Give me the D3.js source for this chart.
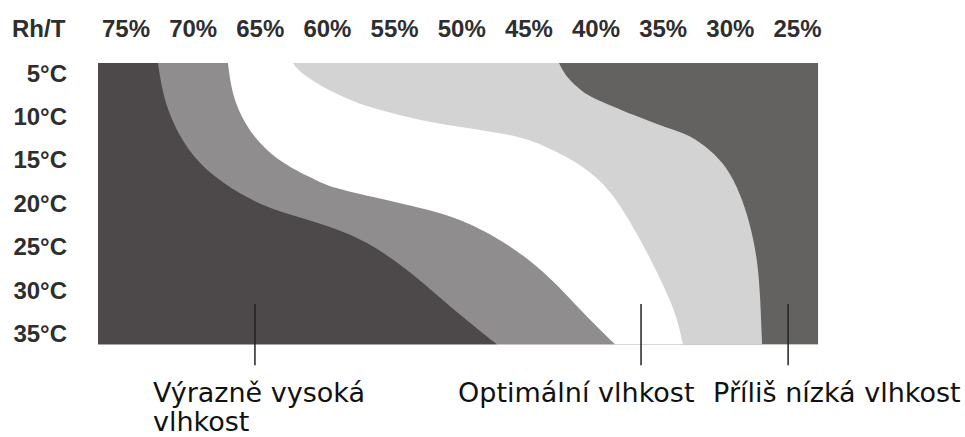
<!DOCTYPE html>
<html>
<head>
<meta charset="utf-8">
<script src="https://cdn.jsdelivr.net/npm/d3@7/dist/d3.min.js"></script>
<style>
  html, body { margin: 0; padding: 0; background: #ffffff; }
  svg { display: block; }
</style>
</head>
<body>
<svg id="chart" width="965" height="437"></svg>
<script>
// ---- data ----
const cornerLabel = "Rh/T";
const humidityTicks = [75, 70, 65, 60, 55, 50, 45, 40, 35, 30, 25];
const humidityLabels = ["75%", "70%", "65%", "60%", "55%", "50%", "45%", "40%", "35%", "30%", "25%"];
const tempTicks = [5, 10, 15, 20, 25, 30, 35];
const tempLabels = ["5°C", "10°C", "15°C", "20°C", "25°C", "30°C", "35°C"];

// extent of the coloured field (humidity %, temperature °C)
const fieldHumidity = [77.08, 23.47];
const fieldTemp = [3.85, 36.25];

// zone boundaries: [temperature °C, humidity %]
const boundaryHigh = [ // dark (very high) | medium gray
  [3.85, 72.62], [6.96, 72.32], [10.07, 71.72], [13.87, 70.46], [16.98, 68.52],
  [19.63, 65.77], [21.12, 63.31], [22.27, 60.55], [24.23, 57.06], [28.49, 53.33],
  [31.95, 50.87], [36.25, 47.38]
];
const boundaryMedOpt = [ // medium gray | white (optimal)
  [3.85, 67.41], [7.53, 67.11], [10.99, 66.14], [13.87, 64.65], [15.94, 62.79],
  [17.55, 60.55], [18.24, 59.59], [19.97, 54.60], [21.35, 50.87], [23.08, 48.42],
  [25.38, 45.89], [28.49, 43.43], [32.64, 40.97], [36.25, 38.59]
];
const boundaryOptLow = [ // white (optimal) | light gray
  [3.85, 62.57], [5.0, 62.04], [7.30, 59.59], [8.92, 57.06], [10.41, 53.33],
  [11.33, 49.61], [11.91, 47.15], [12.72, 44.69], [14.67, 42.16], [15.83, 40.97],
  [17.32, 39.71], [19.63, 38.44], [22.74, 37.25], [26.19, 36.0], [30.34, 34.72],
  [33.10, 33.98], [36.25, 33.53]
];
const boundaryLow = [ // light gray | dark (too low)
  [3.85, 42.76], [5.46, 42.24], [7.30, 40.97], [8.22, 39.71], [9.84, 37.25],
  [11.33, 34.72], [12.14, 33.0], [13.87, 31.51], [15.83, 30.25], [18.82, 29.28],
  [22.27, 28.54], [26.19, 28.02], [29.99, 27.79], [36.25, 27.64]
];

const zoneNames = ["Výrazně vysoká vlhkost", "Optimální vlhkost", "Příliš nízká vlhkost"];
const zoneLabelLines = [["Výrazně vysoká", "vlhkost"], ["Optimální vlhkost"], ["Příliš nízká vlhkost"]];
const zonePointerHumidity = [65.4, 36.65, 25.7];
const zonePointerTemp = 31.6;

// ---- drawing ----
const svg = d3.select("#chart");
const x = d3.scaleLinear().domain([75, 25]).range([126, 797.5]);
const y = d3.scaleLinear().domain([5, 35]).range([73, 333.5]);

const colors = {
  lowDark: "#646261",
  lowLight: "#d3d3d3",
  optimal: "#ffffff",
  highMed: "#8f8d8e",
  highDark: "#4d494a"
};

const fx0 = x(fieldHumidity[0]), fx1 = x(fieldHumidity[1]);
const fy0 = y(fieldTemp[0]), fy1 = y(fieldTemp[1]);

// base: too low humidity (dark right)
svg.append("rect")
  .attr("x", fx0).attr("y", fy0)
  .attr("width", fx1 - fx0).attr("height", fy1 - fy0)
  .attr("fill", colors.lowDark);

const area = d3.area()
  .curve(d3.curveBasis)
  .y(d => y(d[0]))
  .x0(fx0)
  .x1(d => x(d[1]));

[[boundaryLow, colors.lowLight],
 [boundaryOptLow, colors.optimal],
 [boundaryMedOpt, colors.highMed],
 [boundaryHigh, colors.highDark]].forEach(([b, c]) => {
  svg.append("path").attr("d", area(b)).attr("fill", c);
});

// axis labels
const labelFont = "'Liberation Sans', Arial, Helvetica, sans-serif";
svg.append("text")
  .attr("x", 12).attr("y", 36.7)
  .attr("font-family", labelFont).attr("font-weight", "bold")
  .attr("font-size", 24).attr("fill", "#2e2e2e")
  .text(cornerLabel);

svg.append("g").selectAll("text")
  .data(humidityTicks)
  .join("text")
  .attr("x", d => x(d)).attr("y", 36.7)
  .attr("text-anchor", "middle")
  .attr("font-family", labelFont).attr("font-weight", "bold")
  .attr("font-size", 24).attr("fill", "#2e2e2e")
  .text((d, i) => humidityLabels[i]);

svg.append("g").selectAll("text")
  .data(tempTicks)
  .join("text")
  .attr("x", 67).attr("y", d => y(d) + 8.6)
  .attr("text-anchor", "end")
  .attr("font-family", labelFont).attr("font-weight", "bold")
  .attr("font-size", 24).attr("fill", "#2e2e2e")
  .text((d, i) => tempLabels[i]);

// zone pointers and labels
const labelOffsets = [-102, -183, -75];
zonePointerHumidity.forEach((h, i) => {
  const px = x(h);
  svg.append("line")
    .attr("x1", px).attr("x2", px)
    .attr("y1", y(zonePointerTemp)).attr("y2", fy1 + 21)
    .attr("stroke", "#222").attr("stroke-width", 1.5);
  const t = svg.append("text")
    .attr("font-family", "'DejaVu Sans', Verdana, sans-serif")
    .attr("font-size", 27).attr("fill", "#111");
  zoneLabelLines[i].forEach((line, j) => {
    t.append("tspan")
      .attr("x", px + labelOffsets[i])
      .attr("y", 402 + j * 29)
      .text(line);
  });
});
</script>
</body>
</html>
